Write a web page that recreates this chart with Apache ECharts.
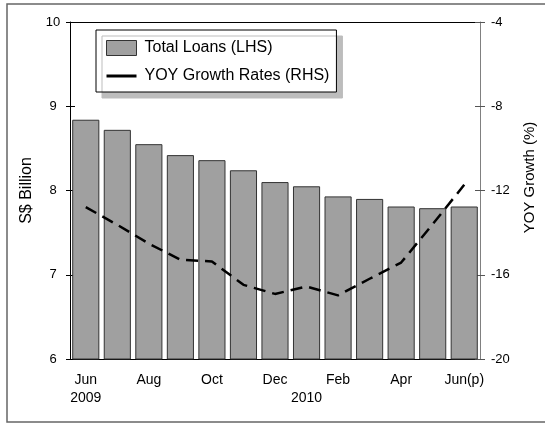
<!DOCTYPE html>
<html>
<head>
<meta charset="utf-8">
<script src="https://cdn.jsdelivr.net/npm/echarts@6/dist/echarts.min.js"></script>
<style>
  html, body { margin: 0; padding: 0; background: #fff; }
  #chart { width: 545px; height: 424px; }
</style>
</head>
<body>
<div id="chart"></div>
<script>
// months Jun 2009 .. Jun 2010
const months = ["Jun", "Jul", "Aug", "Sep", "Oct", "Nov", "Dec", "Jan", "Feb", "Mar", "Apr", "May", "Jun(p)"];
const monthLabels = ["Jun\n2009", "", "Aug", "", "Oct", "", "Dec", "\n2010", "Feb", "", "Apr", "", "Jun(p)"];
const totalLoans = [8.84, 8.72, 8.55, 8.42, 8.36, 8.24, 8.10, 8.05, 7.93, 7.90, 7.81, 7.79, 7.81];
const yoyGrowth = [-12.79, -13.63, -14.52, -15.29, -15.37, -16.48, -16.91, -16.56, -16.98, -16.19, -15.42, -13.60, -11.73];

const FONT = "Liberation Sans, Arial, sans-serif";
const chart = echarts.init(document.getElementById("chart"));

const option = {
  animation: false,
  textStyle: { fontFamily: FONT, color: "#000" },
  graphic: [
    {
      type: "rect",
      shape: { x: 7, y: 4, width: 560, height: 418 },
      style: { fill: "none", stroke: "#666", lineWidth: 1.5 },
      silent: true,
    },
  ],
  grid: { left: 70, right: 65, top: 22, bottom: 65, outerBoundsMode: "none" },
  legend: {
    orient: "vertical",
    left: 96,
    top: 30,
    padding: [10, 7, 8, 9],
    itemWidth: 30,
    itemHeight: 15,
    itemGap: 12,
    backgroundColor: "#fff",
    borderColor: "#000",
    borderWidth: 1,
    shadowColor: "#bdbdbd",
    shadowOffsetX: 6,
    shadowOffsetY: 6,
    shadowBlur: 0,
    textStyle: { fontSize: 16, fontFamily: FONT, color: "#000", padding: [0, 0, 0, 3] },
    data: [
      { name: "Total Loans (LHS)", icon: "rect", itemStyle: { color: "#a0a0a0", borderColor: "#333", borderWidth: 1 } },
      { name: "YOY Growth Rates (RHS)", itemStyle: { opacity: 0 }, lineStyle: { type: "solid", width: 3, color: "#000" } },
    ],
  },
  xAxis: [
    {
      type: "category",
      position: "bottom",
      data: months,
      axisLine: { lineStyle: { color: "#000", width: 1 } },
      axisTick: { alignWithLabel: true, length: 4, lineStyle: { color: "#000" } },
      axisLabel: {
        interval: 0,
        margin: 12,
        fontSize: 14,
        lineHeight: 18,
        color: "#000",
        fontFamily: FONT,
        formatter: (v, i) => monthLabels[i],
      },
    },
    {
      type: "category",
      position: "bottom",
      data: months,
      axisLine: { show: false },
      axisTick: { inside: true, alignWithLabel: true, length: 4, lineStyle: { color: "#000" } },
      axisLabel: { show: false },
    },
    {
      type: "category",
      position: "top",
      data: months,
      axisLine: { lineStyle: { color: "#000", width: 1 } },
      axisTick: { show: false },
      axisLabel: { show: false },
    },
  ],
  yAxis: [
    {
      type: "value",
      position: "left",
      min: 6,
      max: 10,
      interval: 1,
      name: "S$ Billion",
      nameLocation: "middle",
      nameRotate: 90,
      nameGap: 34,
      nameTextStyle: { fontSize: 16, fontFamily: FONT, color: "#000" },
      axisLine: { show: true, lineStyle: { color: "#000" } },
      axisTick: { show: true, length: 4, lineStyle: { color: "#000" } },
      axisLabel: { fontSize: 13, margin: 17, color: "#000", fontFamily: FONT, align: "center" },
      splitLine: { show: false },
    },
    {
      type: "value",
      position: "right",
      min: -20,
      max: -4,
      interval: 4,
      name: "YOY Growth (%)",
      nameLocation: "middle",
      nameRotate: 90,
      nameGap: 42,
      nameTextStyle: { fontSize: 15, fontFamily: FONT, color: "#000", padding: [0, 0, 0, 26] },
      axisLine: { show: true, lineStyle: { color: "#808080" } },
      axisTick: { show: true, length: 5, lineStyle: { color: "#555" } },
      axisLabel: { fontSize: 13, margin: 11, color: "#000", fontFamily: FONT },
      splitLine: { show: false },
    },
    {
      type: "value",
      position: "left",
      min: 6,
      max: 10,
      interval: 1,
      axisLine: { show: false },
      axisTick: { show: true, inside: true, length: 5, lineStyle: { color: "#000" } },
      axisLabel: { show: false },
      splitLine: { show: false },
    },
    {
      type: "value",
      position: "right",
      min: -20,
      max: -4,
      interval: 4,
      axisLine: { show: false },
      axisTick: { show: true, inside: true, length: 5, lineStyle: { color: "#555" } },
      axisLabel: { show: false },
      splitLine: { show: false },
    },
  ],
  series: [
    {
      name: "Total Loans (LHS)",
      type: "bar",
      xAxisIndex: 0,
      yAxisIndex: 0,
      data: totalLoans,
      barCategoryGap: "14%",
      itemStyle: { color: "#a0a0a0", borderColor: "#333", borderWidth: 1 },
    },
    {
      name: "YOY Growth Rates (RHS)",
      type: "line",
      xAxisIndex: 0,
      yAxisIndex: 1,
      data: yoyGrowth,
      color: "#000",
      symbol: "none",
      lineStyle: { color: "#000", width: 2.5, type: [12, 7] },
    },
  ],
};
chart.setOption(option);
</script>
</body>
</html>
